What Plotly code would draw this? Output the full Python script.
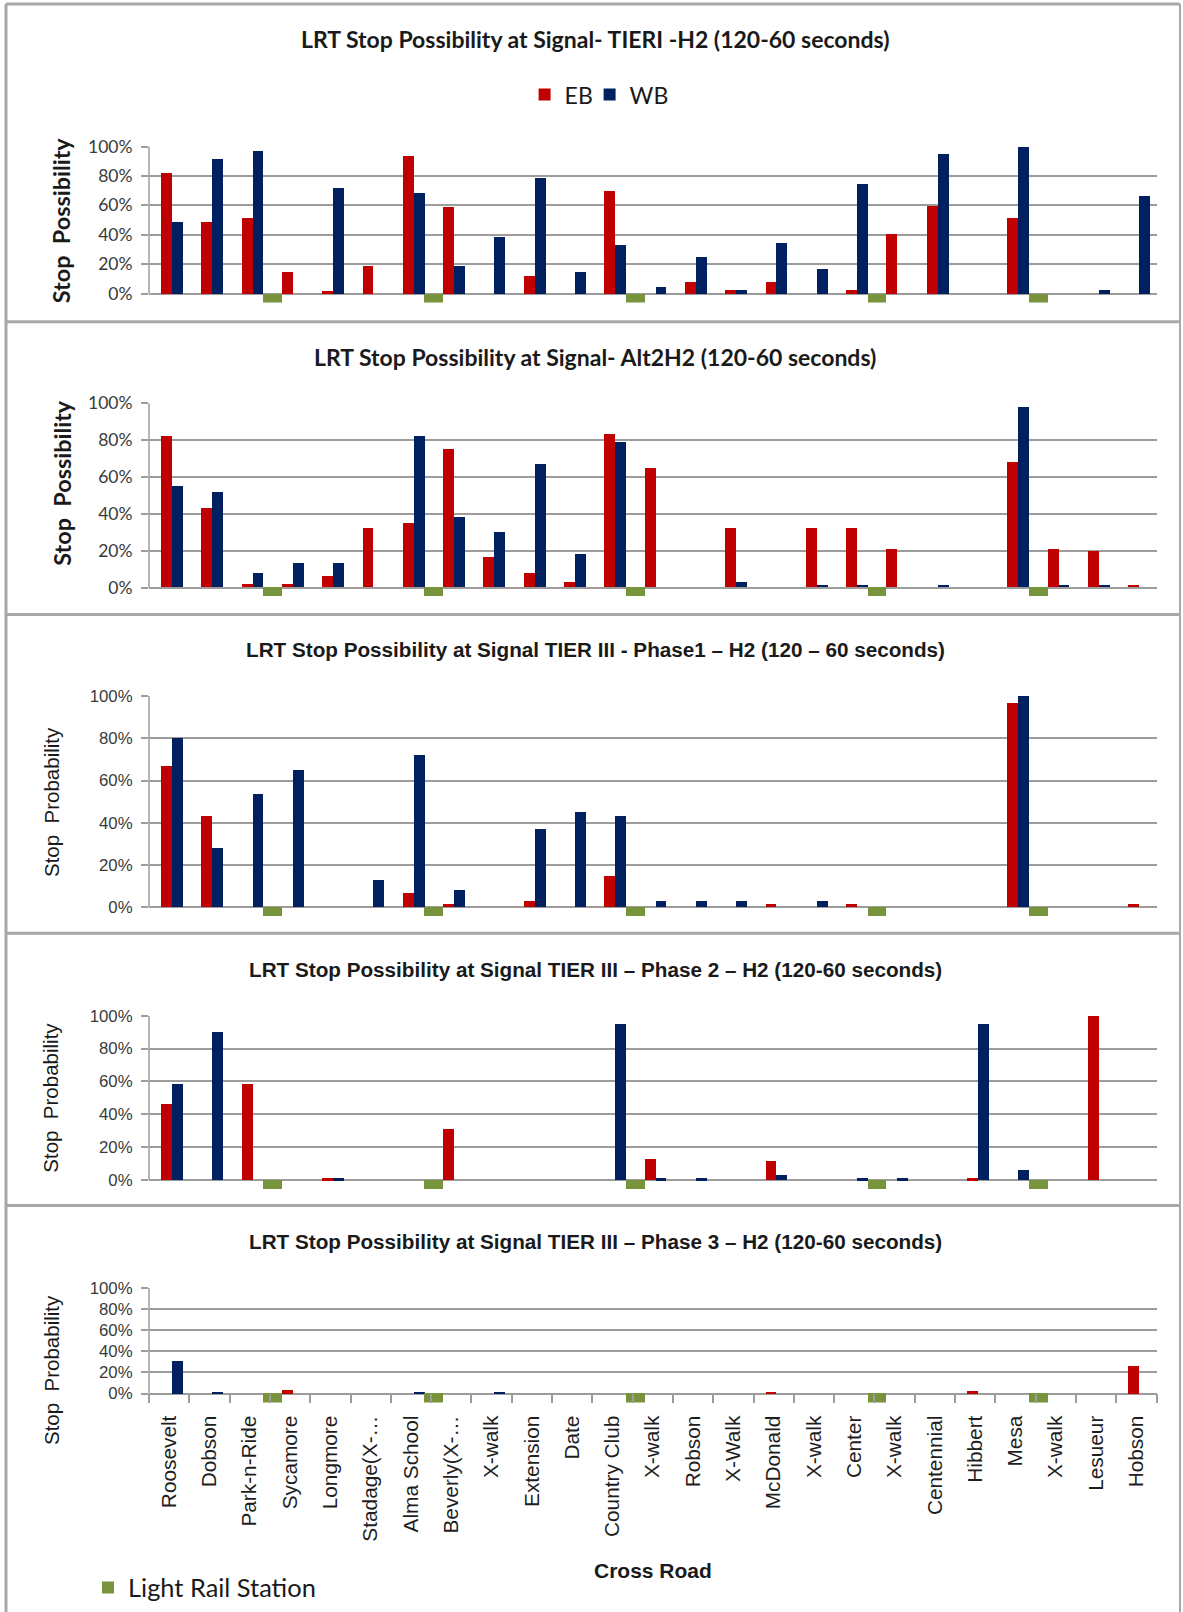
import plotly.graph_objects as go

# ---------------- data ----------------
categories = ["Roosevelt", "Dobson", "Park-n-Ride", "Sycamore", "Longmore", "Stadage(X-…",
              "Alma School", "Beverly(X-…", "X-walk", "Extension", "Date", "Country Club",
              "X-walk", "Robson", "X-Walk", "McDonald", "X-walk", "Center", "X-walk",
              "Centennial", "Hibbert", "Mesa", "X-walk", "Lesueur", "Hobson"]

# light rail stations sit just after these cross roads
station_after = ["Park-n-Ride", "Alma School", "Country Club", "Center", "Mesa"]

eb_tier1 = [82, 49, 52, 15, 2, 19, 94, 59, 0, 12, 0, 70, 0, 8, 3, 8, 0, 3, 41, 60, 0, 52, 0, 0, 0]
wb_tier1 = [49, 92, 97, 0, 72, 0, 69, 19, 39, 79, 15, 33, 5, 25, 3, 35, 17, 75, 0, 95, 0, 100, 0, 3, 67]

eb_alt2 = [82, 43, 2, 2, 6, 32, 35, 75, 16.5, 8, 3, 83, 65, 0, 32, 0, 32, 32, 21, 0, 0, 68, 21, 20, 1.5]
wb_alt2 = [55, 52, 8, 13, 13, 0, 82, 38, 30, 67, 18, 79, 0, 0, 3, 0, 1.5, 1.5, 0, 1.5, 0, 98, 1.5, 1.5, 0]

eb_ph1 = [67, 43, 0, 0, 0, 0, 6.6, 1.6, 0, 3, 0, 15, 0, 0, 0, 1.5, 0, 1.5, 0, 0, 0, 96.5, 0, 0, 1.5]
wb_ph1 = [80, 28, 53.5, 65, 0, 13, 72, 8, 0, 37, 45, 43, 3, 3, 3, 0, 3, 0, 0, 0, 0, 100, 0, 0, 0]

eb_ph2 = [46.7, 0, 58.4, 0, 1.2, 0, 0, 31.4, 0, 0, 0, 0, 13, 0, 0, 11.8, 0, 0, 0, 0, 1.2, 0, 0, 100, 0]
wb_ph2 = [58.4, 90, 0, 0, 1.2, 0, 0, 0, 0, 0, 0, 95, 1.2, 1.2, 0, 3, 0, 1.2, 1.2, 0, 95, 6.5, 0, 0, 0]

eb_ph3 = [0, 0, 0, 3, 0, 0, 0, 0, 0, 0, 0, 0, 0, 0, 0, 0.8, 0, 0, 0, 0, 2.5, 0, 0, 0, 26]
wb_ph3 = [31, 0.8, 0, 0, 0, 0, 0.8, 0, 0.8, 0, 0, 0, 0, 0, 0, 0, 0, 0, 0, 0, 0, 0, 0, 0, 0]

panel_titles = [
    "LRT Stop Possibility at Signal- TIERI -H2 (120-60 seconds)",
    "LRT Stop Possibility at Signal- Alt2H2 (120-60 seconds)",
    "LRT Stop Possibility at Signal TIER III - Phase1 – H2 (120 – 60 seconds)",
    "LRT Stop Possibility at Signal TIER III – Phase 2 – H2 (120-60 seconds)",
    "LRT Stop Possibility at Signal TIER III – Phase 3 – H2 (120-60 seconds)",
]
y_titles = ["Stop  Possibility", "Stop  Possibility", "Stop  Probability",
            "Stop  Probability", "Stop  Probability"]
y_tick_vals = [0, 20, 40, 60, 80, 100]
y_tick_text = ["0%", "20%", "40%", "60%", "80%", "100%"]
series_names = ["EB", "WB"]
station_name = "Light Rail Station"
x_title = "Cross Road"

eb_all = [eb_tier1, eb_alt2, eb_ph1, eb_ph2, eb_ph3]
wb_all = [wb_tier1, wb_alt2, wb_ph1, wb_ph2, wb_ph3]

# ---------------- layout / style ----------------
W, H = 1183, 1612
X_LEFT, X_RIGHT = 149, 1156.5
Y_TOP = [146.5, 403.3, 696.0, 1015.7, 1288.0]
Y_ZERO = [293.5, 587.7, 907.3, 1180.0, 1393.5]
EXT = 9  # px below the zero line
TITLE_Y = [39, 356.6, 649.6, 969, 1241.6]
YT_X = [61.7, 61.7, 51, 51, 51]
YT_Y = [220.5, 483, 802, 1097.7, 1370]
SEPARATORS = [321.7, 614.6, 933.2, 1205.6]

RED, NAVY, GREEN = "#C00000", "#002060", "#77933C"
GRID = "#9c9c9c"
CAL = "Lato, 'Open Sans', sans-serif"
ARIAL = "'Liberation Sans', Arial, sans-serif"

BW = 0.27


def px_y(p):
    return 1 - p / H


def px_x(p):
    return p / W


idx = list(range(len(categories)))
station_idx = [categories.index(s) for s in station_after]

fig = go.Figure()
annotations = []
shapes = []

for k in range(5):
    ppu = (Y_ZERO[k] - Y_TOP[k]) / 100.0
    ymin = -EXT / ppu
    xa = "x" if k == 0 else f"x{k+1}"
    ya = "y" if k == 0 else f"y{k+1}"
    first = (k == 0)
    fig.add_trace(go.Bar(x=idx, y=eb_all[k], name=series_names[0], marker_color=RED,
                         width=BW, offset=-0.2, xaxis=xa, yaxis=ya,
                         showlegend=first, legend="legend", legendwidth=20,
                         marker_line_width=0))
    fig.add_trace(go.Bar(x=idx, y=wb_all[k], name=series_names[1], marker_color=NAVY,
                         width=BW, offset=0.07, xaxis=xa, yaxis=ya,
                         showlegend=first, legend="legend", marker_line_width=0))
    fig.add_trace(go.Bar(x=station_idx, y=[9.5 / ppu] * len(station_idx),
                         base=[-9.0 / ppu] * len(station_idx),
                         name=station_name, marker_color=GREEN, width=0.47, offset=0.33,
                         xaxis=xa, yaxis=ya, showlegend=first, legend="legend2",
                         marker_line_width=0))

    cal = k < 2
    tick_font = dict(family=CAL if cal else ARIAL, size=17.5 if cal else 16.8, color="#3a3a3a")
    dom_y = [px_y(Y_ZERO[k] + EXT), px_y(Y_TOP[k])]
    xkey = "xaxis" if k == 0 else f"xaxis{k+1}"
    ykey = "yaxis" if k == 0 else f"yaxis{k+1}"
    xaxis = dict(domain=[px_x(X_LEFT), px_x(X_RIGHT)], range=[-0.5, len(categories) - 0.5],
                 anchor=ya, showgrid=False, zeroline=False, showline=False,
                 tickvals=idx, ticktext=categories, showticklabels=False, ticks="",
                 fixedrange=True, automargin=False)
    if k == 4:
        xaxis.update(showticklabels=True, tickangle=-90,
                     tickfont=dict(family=ARIAL, size=20.8, color="#1e1e1e"),
                     ticklabelstandoff=8,
                     minor=dict(tickvals=[i - 0.5 for i in range(len(categories) + 1)],
                                ticks="inside", ticklen=EXT, tickcolor=GRID, tickwidth=1.5))
    yaxis = dict(domain=dom_y, range=[ymin, 100], anchor=xa,
                 tickvals=y_tick_vals, ticktext=y_tick_text, tickfont=tick_font,
                 showgrid=True, gridcolor=GRID, gridwidth=1.5, zeroline=False,
                 showline=False, ticks="outside", ticklen=7, tickcolor=GRID, tickwidth=1.5,
                 ticklabelstandoff=5, fixedrange=True, automargin=False)
    fig.update_layout({xkey: xaxis, ykey: yaxis})

    # vertical axis line from 0% to 100%
    shapes.append(dict(type="line", xref=f"{xa} domain", yref=ya, x0=0, x1=0, y0=0, y1=100,
                       line=dict(color=GRID, width=1.5)))

    # panel title
    annotations.append(dict(text=f"<b>{panel_titles[k]}</b>", xref="paper", yref="paper",
                            x=px_x(595), y=px_y(TITLE_Y[k]), xanchor="center", yanchor="middle",
                            showarrow=False,
                            font=dict(family=CAL if cal else ARIAL, size=23 if cal else 20.7,
                                      color="#1a1a1a")))
    # y-axis title
    annotations.append(dict(text=(f"<b>{y_titles[k]}</b>" if cal else y_titles[k]),
                            xref="paper", yref="paper", x=px_x(YT_X[k]), y=px_y(YT_Y[k]),
                            xanchor="center", yanchor="middle", textangle=-90, showarrow=False,
                            font=dict(family=CAL if cal else ARIAL, size=23.4 if cal else 20.5,
                                      color="#1a1a1a")))

# x-axis title
annotations.append(dict(text=f"<b>{x_title}</b>", xref="paper", yref="paper",
                        x=px_x(652.6), y=px_y(1570.5), xanchor="center", yanchor="middle",
                        showarrow=False, font=dict(family=ARIAL, size=21, color="#1a1a1a")))

# panel frames
BORDER = "#a8a8a8"
shapes.append(dict(type="line", xref="paper", yref="paper", x0=px_x(6), x1=px_x(1180),
                   y0=px_y(4), y1=px_y(4), line=dict(color=BORDER, width=3)))
shapes.append(dict(type="line", xref="paper", yref="paper", x0=px_x(6), x1=px_x(6),
                   y0=px_y(4), y1=0, line=dict(color=BORDER, width=3)))
shapes.append(dict(type="line", xref="paper", yref="paper", x0=px_x(1180), x1=px_x(1180),
                   y0=px_y(4), y1=0, line=dict(color=BORDER, width=2)))
for s in SEPARATORS:
    shapes.append(dict(type="line", xref="paper", yref="paper", x0=px_x(6), x1=px_x(1180),
                       y0=px_y(s), y1=px_y(s), line=dict(color=BORDER, width=3)))

fig.update_layout(
    width=W, height=H, margin=dict(l=0, r=0, t=0, b=0, autoexpand=False),
    paper_bgcolor="white", plot_bgcolor="white",
    barmode="overlay", bargap=0,
    annotations=annotations, shapes=shapes,
    legend=dict(orientation="h", x=px_x(524.6), y=px_y(94.6), xanchor="left", yanchor="middle",
                font=dict(family=CAL, size=23, color="#1a1a1a"), bgcolor="rgba(0,0,0,0)",
                traceorder="normal", itemclick=False),
    legend2=dict(orientation="h", x=px_x(88), y=px_y(1588), xanchor="left", yanchor="middle",
                 font=dict(family=CAL, size=25.4, color="#1a1a1a"), bgcolor="rgba(0,0,0,0)",
                 itemclick=False),
    showlegend=True,
)

fig.write_html("out.html", config={"displayModeBar": False},
               post_script="document.body.style.margin='0px';")
